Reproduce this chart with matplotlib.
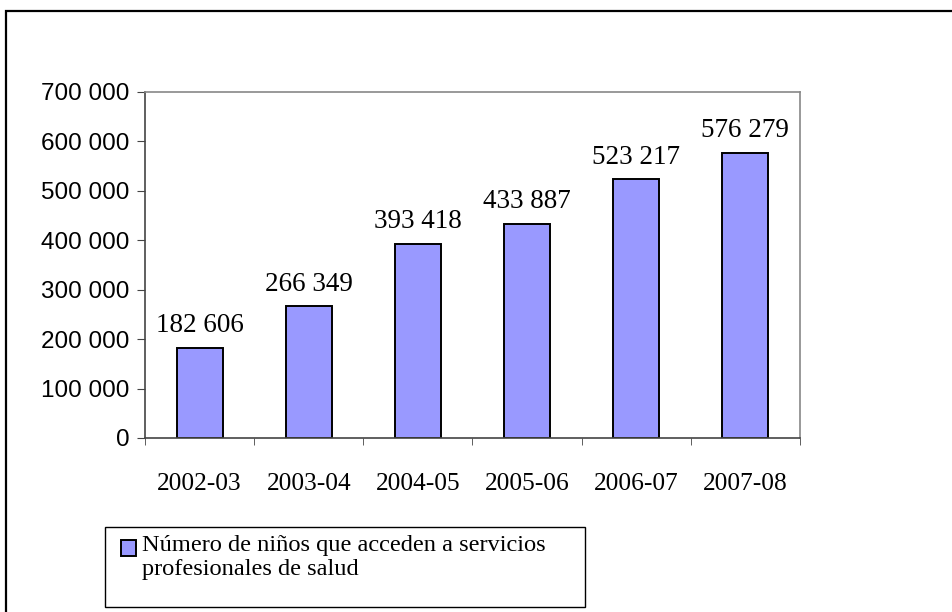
import numpy as np
import matplotlib
matplotlib.use('Agg')
import matplotlib.pyplot as plt
from matplotlib.patches import Rectangle

# datos
categorias = ['2002-03', '2003-04', '2004-05', '2005-06', '2006-07', '2007-08']
ninos = [182606, 266349, 393418, 433887, 523217, 576279]
y_ticks = [0, 100000, 200000, 300000, 400000, 500000, 600000, 700000]
serie = 'Número de niños que acceden a servicios\nprofesionales de salud'

W, H = 952, 612
fig = plt.figure(figsize=(W / 100, H / 100), dpi=100)

def fx(px):
    return px / W

def fy(py):
    return 1 - py / H

# marco exterior
fig.patches.append(Rectangle((fx(6), -0.05), 1.2, fy(11) + 0.05, transform=fig.transFigure,
                             fill=False, edgecolor='black', linewidth=1.6))

ax = fig.add_axes([fx(145), fy(438), fx(800) - fx(145), fy(92) - fy(438)])

x = np.arange(len(categorias))
bars = ax.bar(x, ninos, width=0.42, color='#9999FF', edgecolor='black', linewidth=1.4)

def fmt(v):
    return f'{v:,}'.replace(',', ' ')

for b, v in zip(bars, ninos):
    ax.annotate(fmt(v), (b.get_x() + b.get_width() / 2, v), xytext=(0, 7),
                textcoords='offset points', ha='center', va='bottom',
                fontsize=19.5, family='Liberation Serif')

ax.set_xlim(-0.5, len(categorias) - 0.5)
ax.set_ylim(0, 700000)
ax.set_yticks(y_ticks)
ax.set_yticklabels([fmt(t) for t in y_ticks], fontsize=17.5, family='Liberation Sans')
ax.set_xticks(x)
ax.set_xticklabels(categorias, fontsize=18.3, family='Liberation Serif')
ax.set_xticks(np.arange(-0.5, len(categorias)), minor=True)
ax.tick_params(axis='x', which='major', length=0, pad=25)
ax.tick_params(axis='x', which='minor', length=5, direction='out', color='#444444')
ax.tick_params(axis='y', length=6, direction='out', color='#444444', pad=5)

for s in ['left', 'bottom']:
    ax.spines[s].set_color('#444444')
    ax.spines[s].set_linewidth(1.2)
for s in ['top', 'right']:
    ax.spines[s].set_color('#888888')
    ax.spines[s].set_linewidth(1.2)

# leyenda
fig.patches.append(Rectangle((fx(105), fy(607)), fx(585) - fx(105), fy(527) - fy(607),
                             transform=fig.transFigure, fill=False, edgecolor='black', linewidth=1))
fig.patches.append(Rectangle((fx(121), fy(556)), fx(15), fy(540) - fy(556),
                             transform=fig.transFigure, facecolor='#9999FF', edgecolor='black', linewidth=1.4))
fig.text(fx(142), fy(535), serie, ha='left', va='top', fontsize=17.6,
         family='Liberation Serif', linespacing=1.2)

fig.savefig('out.png', dpi=100)
